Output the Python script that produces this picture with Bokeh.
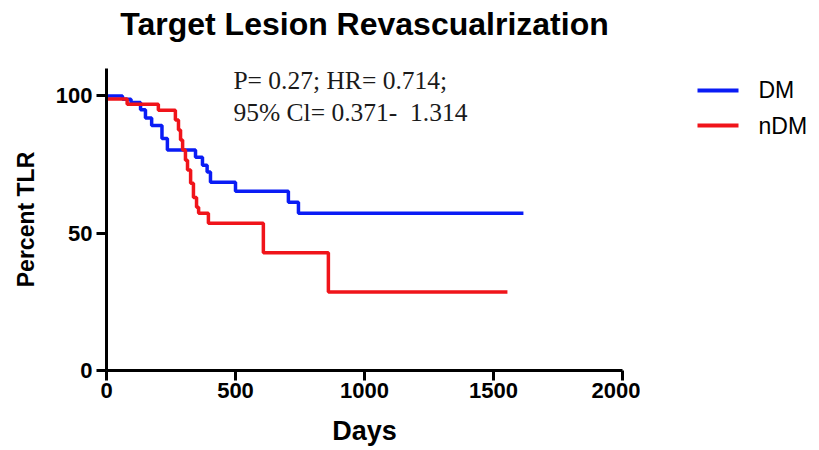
from bokeh.plotting import figure
from bokeh.layouts import row, column
from bokeh.models import Label, FixedTicker, Range1d
from bokeh.core.properties import value
from bokeh.embed import file_html
from bokeh.resources import INLINE

title_text = "Target Lesion Revascualrization"
x_label = "Days"
y_label = "Percent TLR"
x_ticks = [0, 500, 1000, 1500, 2000]
y_ticks = [0, 50, 100]
annot_line1 = "P= 0.27; HR= 0.714;"
annot_line2 = "95% Cl= 0.371-\u00a0 1.314"
series_names = ["DM", "nDM"]

dm_days = [0, 62, 95, 132, 151, 175, 215, 236, 345, 372, 390, 403, 500, 705, 744, 1616]
dm_pct = [100, 98.8, 97.6, 95.0, 92.0, 89.2, 84.5, 80.3, 77.7, 74.8, 72.3, 68.6, 65.3, 61.3, 57.3, 57.3]

ndm_days = [0, 80, 201, 267, 279, 287, 295, 306, 314, 326, 337, 349, 357, 395, 608, 860, 1554]
ndm_pct = [98.9, 97.0, 94.8, 91.2, 87.6, 84.0, 80.3, 76.6, 73.0, 68.2, 63.0, 59.5, 57.3, 53.6, 42.9, 28.6, 28.6]

BLUE = "#0a1cf5"
RED = "#f0141a"
SANS = "Liberation Sans"
SERIF = "Liberation Serif"

TITLE_H = 46

# ---- title strip (pixel-like coordinates, frame starts where the plot frame starts)
t = figure(width=819, height=TITLE_H, output_backend="svg", toolbar_location=None,
           title_location=None, x_range=Range1d(0, 713), y_range=Range1d(0, TITLE_H),
           x_axis_location=None, y_axis_location=None,
           min_border_left=106, min_border_right=0, min_border_top=0, min_border_bottom=0)
t.outline_line_color = None
t.xgrid.visible = False
t.ygrid.visible = False
t.add_layout(Label(x=258, y=23, text=title_text, text_font=SANS, text_font_style="bold",
                   text_font_size="32px", text_align="center", text_baseline="middle",
                   text_color="black"))

# ---- main plot
p = figure(width=640, height=450 - TITLE_H, output_backend="svg", toolbar_location=None,
           title_location=None,
           x_range=Range1d(0, 2000), y_range=Range1d(0, 110),
           min_border_left=106, min_border_right=18, min_border_top=68 - TITLE_H,
           min_border_bottom=80)
p.outline_line_color = None
p.xgrid.visible = False
p.ygrid.visible = False

r1 = p.step(dm_days, dm_pct, mode="after", line_color=BLUE, line_width=3.5)
r2 = p.step(ndm_days, ndm_pct, mode="after", line_color=RED, line_width=3.5)

for ax in (p.xaxis[0], p.yaxis[0]):
    ax.axis_line_width = 3
    ax.axis_line_color = "black"
    ax.major_tick_line_width = 3
    ax.major_tick_line_color = "black"
    ax.major_tick_out = 10
    ax.major_tick_in = 0
    ax.minor_tick_line_color = None
    ax.major_label_text_font = SANS
    ax.major_label_text_font_style = "bold"
    ax.major_label_text_font_size = "22px"
    ax.major_label_text_color = "black"
    ax.axis_label_text_font = SANS
    ax.axis_label_text_font_style = "bold"
    ax.axis_label_text_color = "black"

p.xaxis[0].ticker = FixedTicker(ticks=x_ticks)
p.yaxis[0].ticker = FixedTicker(ticks=y_ticks)
p.xaxis[0].axis_label = x_label
p.yaxis[0].axis_label = y_label
p.xaxis[0].axis_label_text_font_size = "27px"
p.yaxis[0].axis_label_text_font_size = "23px"
p.xaxis[0].major_label_standoff = 2
p.yaxis[0].major_label_standoff = 4
p.xaxis[0].axis_label_standoff = 15
p.yaxis[0].axis_label_standoff = 14

# statistics annotation
p.add_layout(Label(x=492, y=105.6, text=annot_line1, text_font=SERIF, text_font_size="25.5px",
                   text_align="left", text_baseline="middle", text_color="#1a1a1a"))
p.add_layout(Label(x=492, y=93.8, text=annot_line2, text_font=SERIF, text_font_size="25.5px",
                   text_align="left", text_baseline="middle", text_color="#1a1a1a"))

# ---- legend panel; its frame is aligned with the main frame (same y range)
q = figure(width=179, height=450 - TITLE_H, output_backend="svg", toolbar_location=None,
           title_location=None,
           x_range=Range1d(0, 179), y_range=Range1d(0, 110),
           x_axis_location=None, y_axis_location=None,
           min_border_left=0, min_border_right=0, min_border_top=68 - TITLE_H,
           min_border_bottom=80)
q.outline_line_color = None
q.xgrid.visible = False
q.ygrid.visible = False
leg_colors = [BLUE, RED]
leg_y = [102.0, 89.2]
q.segment(x0=[57, 57], y0=leg_y, x1=[98, 98], y1=leg_y, line_color=leg_colors, line_width=4)
q.text(x=[118, 118], y=leg_y, text=series_names, text_font=value(SANS), text_font_size="23px",
       text_baseline="middle", text_align="left", text_color="black")

layout = column(t, row(p, q, spacing=0), spacing=0)
open("out.html", "w").write(file_html(layout, INLINE))
